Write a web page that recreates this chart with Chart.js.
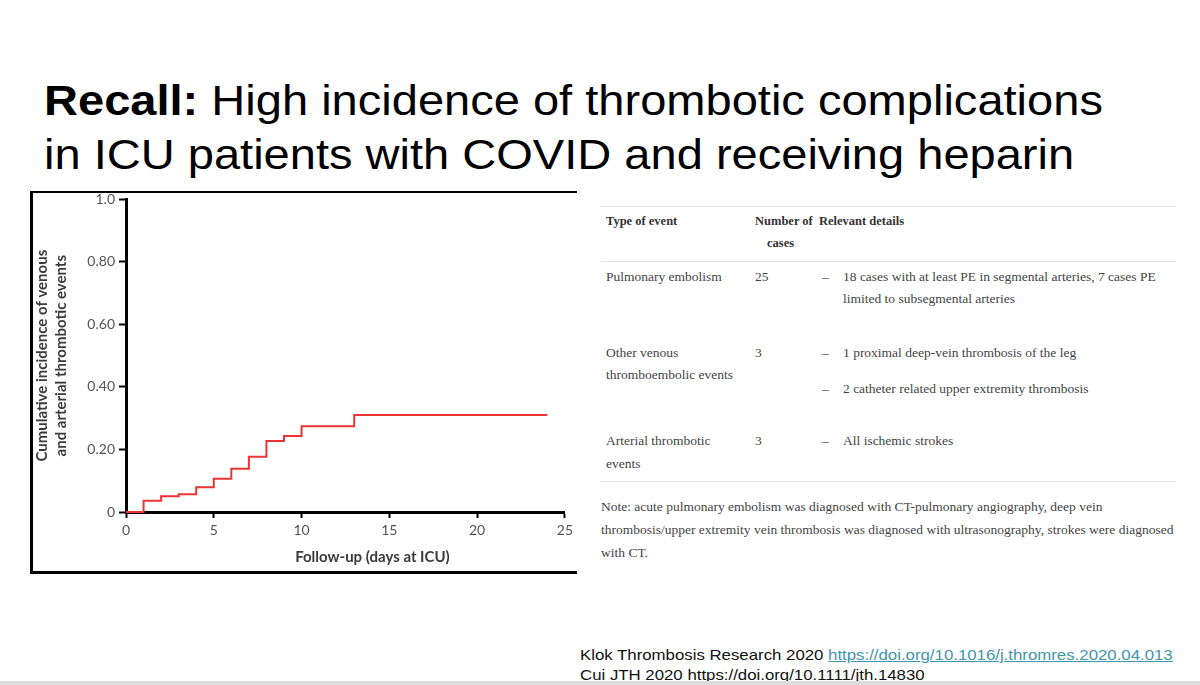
<!DOCTYPE html>
<html>
<head>
<meta charset="utf-8">
<script src="https://cdn.jsdelivr.net/npm/chart.js@4"></script>
<style>
  body { margin: 0; width: 1200px; height: 685px; background: #fff; position: relative; overflow: hidden; }
  .title { position: absolute; left: 44px; top: 74px; font-family: "Liberation Sans", Arial, sans-serif;
           font-size: 42px; line-height: 54px; color: #000; transform: scaleX(1.12); transform-origin: left top; white-space: nowrap; }
  .title b { font-weight: bold; }
  #frame { position: absolute; left: 30px; top: 191px; width: 544px; height: 378px; overflow: hidden;
           border-left: 3px solid #000; border-top: 2px solid #000; border-bottom: 3px solid #000; }
  #frame canvas { position: absolute; left: 0; top: -6px; }
  .t { position: absolute; font-family: "Liberation Serif", "Times New Roman", serif; font-size: 13.5px;
       line-height: 22px; color: #444; white-space: nowrap; }
  .t.h { font-weight: bold; font-size: 12.5px; color: #333; }
  .rule { position: absolute; left: 601px; width: 575px; height: 1px; background: #e4e4e4; }
  .cite { position: absolute; left: 580px; font-family: "Liberation Sans", Arial, sans-serif; font-size: 15px;
          line-height: 20px; color: #111; transform: scaleX(1.12); transform-origin: left top; white-space: nowrap; }
  .cite a { color: #3f95ad; text-decoration: underline; }
  .band { position: absolute; left: 0; top: 681px; width: 1200px; height: 4px; background: #dcdcdc; }
</style>
</head>
<body>
<div class="title"><b>Recall:</b> High incidence of thrombotic complications<br>in ICU patients with COVID and receiving heparin</div>

<div id="frame"><canvas id="chart" width="544" height="384"></canvas></div>

<!-- tabel rechts -->
<div class="rule" style="top:206px"></div>
<div class="t h" style="left:606px; top:210px">Type of event</div>
<div class="t h" style="left:755px; top:210px">Number of</div>
<div class="t h" style="left:767px; top:232px">cases</div>
<div class="t h" style="left:819px; top:210px">Relevant details</div>
<div class="rule" style="top:261px"></div>

<div class="t" style="left:606px; top:266px">Pulmonary embolism</div>
<div class="t" style="left:755px; top:266px">25</div>
<div class="t" style="left:822px; top:266px">–</div>
<div class="t" style="left:843px; top:266px">18 cases with at least PE in segmental arteries, 7 cases PE</div>
<div class="t" style="left:843px; top:288px">limited to subsegmental arteries</div>

<div class="t" style="left:606px; top:342px">Other venous</div>
<div class="t" style="left:606px; top:364px">thromboembolic events</div>
<div class="t" style="left:755px; top:342px">3</div>
<div class="t" style="left:822px; top:342px">–</div>
<div class="t" style="left:843px; top:342px">1 proximal deep-vein thrombosis of the leg</div>
<div class="t" style="left:822px; top:378px">–</div>
<div class="t" style="left:843px; top:378px">2 catheter related upper extremity thrombosis</div>

<div class="t" style="left:606px; top:430px">Arterial thrombotic</div>
<div class="t" style="left:606px; top:453px">events</div>
<div class="t" style="left:755px; top:430px">3</div>
<div class="t" style="left:822px; top:430px">–</div>
<div class="t" style="left:843px; top:430px">All ischemic strokes</div>
<div class="rule" style="top:481px"></div>

<div class="t" style="left:601px; top:496px">Note: acute pulmonary embolism was diagnosed with CT-pulmonary angiography, deep vein</div>
<div class="t" style="left:601px; top:519px">thrombosis/upper extremity vein thrombosis was diagnosed with ultrasonography, strokes were diagnosed</div>
<div class="t" style="left:601px; top:542px">with CT.</div>

<div class="cite" style="top:645px">Klok Thrombosis Research 2020 <a>https://doi.org/10.1016/j.thromres.2020.04.013</a></div>
<div class="cite" style="top:665px">Cui JTH 2020 https://doi.org/10.1111/jth.14830</div>
<div class="band"></div>

<script>
const days = [0, 1, 2, 3, 4, 5, 6, 7, 8, 9, 10, 13, 24];
const incidence = [0, 0.036, 0.05, 0.057, 0.079, 0.106, 0.138, 0.177, 0.227, 0.243, 0.274, 0.31, 0.31];
const xTicks = [0, 5, 10, 15, 20, 25];
const yTicks = [0, 0.2, 0.4, 0.6, 0.8, 1.0];
const yTickLabels = ['0', '0.20', '0.40', '0.60', '0.80', '1.0'];
const xTitle = 'Follow-up (days at ICU)';
const yTitle = ['Cumulative incidence of venous', 'and arterial thrombotic events'];

const points = days.map((d, i) => ({ x: d, y: incidence[i] }));

const tickFont = { family: 'Lato', size: 14 };
const titleFont = { family: 'Lato', size: 15, weight: 'bold', lineHeight: 1.27 };

// x-titel staat in het origineel iets rechts van het midden
const xTitlePlugin = {
  id: 'xTitle',
  afterDraw(chart) {
    const { ctx, chartArea } = chart;
    ctx.save();
    ctx.font = 'bold 15px Lato';
    ctx.fillStyle = '#3a3a3a';
    ctx.textAlign = 'center';
    ctx.textBaseline = 'middle';
    ctx.fillText(xTitle, (chartArea.left + chartArea.right) / 2 + 27, chart.height - 14);
    ctx.restore();
  }
};

new Chart(document.getElementById('chart'), {
  type: 'line',
  data: {
    datasets: [{
      data: points,
      stepped: 'before',
      borderColor: 'rgb(236, 52, 52)',
      borderWidth: 2,
      pointRadius: 0,
      clip: 6
    }]
  },
  plugins: [xTitlePlugin],
  options: {
    responsive: false,
    animation: false,
    layout: { padding: { top: 0, right: 9, left: 0, bottom: 0 } },
    plugins: { legend: { display: false }, tooltip: { enabled: false } },
    scales: {
      x: {
        type: 'linear',
        min: 0, max: 25,
        afterBuildTicks: axis => { axis.ticks = xTicks.map(v => ({ value: v })); },
        afterFit: axis => { axis.height = 59; },
        ticks: { font: tickFont, color: '#555', padding: 4, callback: v => String(v) },
        grid: { drawOnChartArea: false, tickLength: 6, tickWidth: 2, tickColor: '#000' },
        border: { display: true, color: '#000', width: 3 }
      },
      y: {
        min: 0, max: 1,
        afterBuildTicks: axis => { axis.ticks = yTicks.map(v => ({ value: v })); },
        afterFit: axis => { axis.width = 93; },
        ticks: { font: tickFont, color: '#555', padding: 4, callback: (v, i) => yTickLabels[i] },
        grid: { drawOnChartArea: false, tickLength: 7, tickWidth: 2, tickColor: '#000' },
        border: { display: true, color: '#000', width: 3 },
        title: { display: true, text: yTitle, font: titleFont, color: '#3a3a3a', padding: { top: 0, bottom: 0 } }
      }
    }
  }
});
</script>
</body>
</html>
